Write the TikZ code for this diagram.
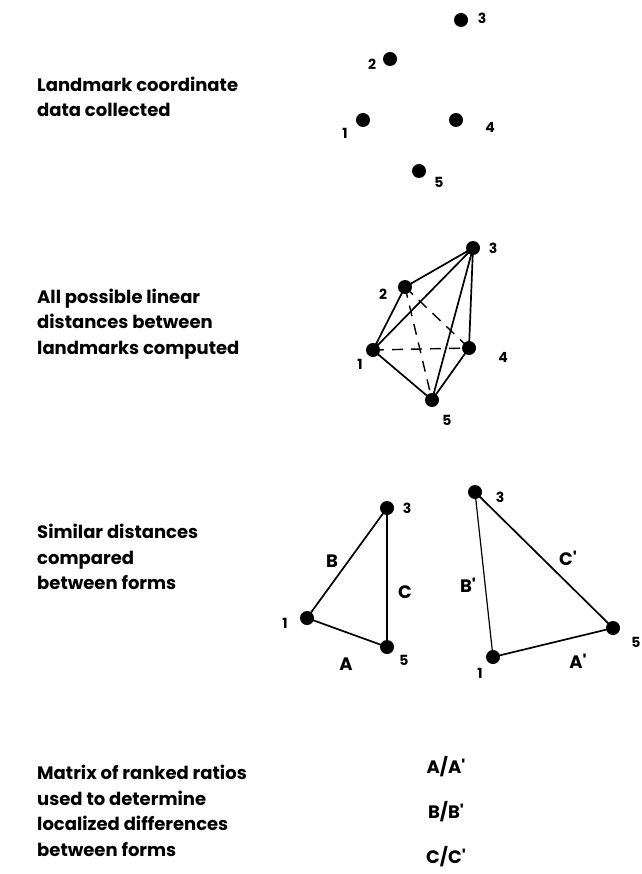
\documentclass[tikz,border=0pt]{standalone}
\usepackage{fontspec}
\newfontfamily\pop{Poppins}
\begin{document}
\begin{tikzpicture}[x=1pt,y=-1pt,
  lm/.style={circle,fill=black,inner sep=0pt,minimum size=14pt},
  num/.style={font=\pop\fontsize{14}{14}\selectfont\bfseries,inner sep=0pt},
  desc/.style={font=\pop\fontsize{18}{25.5}\selectfont\bfseries,align=left,anchor=west,inner sep=0pt},
  elab/.style={font=\pop\fontsize{18}{18}\selectfont\bfseries,inner sep=0pt},
  edge/.style={line width=1.7pt},
  dedge/.style={line width=1.4pt,dash pattern=on 11pt off 8pt}]
\useasboundingbox (0,0) rectangle (641,874);

% Panel 1
\node[desc] (t1) at (37,97) {Landmark coordinate\\data collected};
\node[lm] (a3) at (461,20) {};
\node[lm] (a2) at (390,59) {};
\node[lm] (a1) at (363,120) {};
\node[lm] (a4) at (456,120) {};
\node[lm] (a5) at (419,171) {};
\node[num] (la3) at (482,18) {3};
\node[num] (la2) at (372,64) {2};
\node[num] (la1) at (345,133) {1};
\node[num] (la4) at (490,127) {4};
\node[num] (la5) at (439,182) {5};

% Panel 2
\node[desc] (t2) at (37,324) {All possible linear\\distances between\\landmarks computed};
\node[lm] (b3) at (473,248) {};
\node[lm] (b2) at (405,287) {};
\node[lm] (b1) at (373,350) {};
\node[lm] (b4) at (469,348) {};
\node[lm] (b5) at (432,400) {};
\node[num] (lb3) at (493,248) {3};
\node[num] (lb2) at (383,294) {2};
\node[num] (lb1) at (360,364) {1};
\node[num] (lb4) at (503,357) {4};
\node[num] (lb5) at (447,420) {5};
\draw[edge] (b1.center) -- (b2.center) -- (b3.center) -- (b1.center);
\draw[edge] (b3.center) -- (b4.center) -- (b5.center) -- (b1.center);
\draw[edge] (b3.center) -- (b5.center);
\draw[dedge] (b1.center) -- (b4.center);
\draw[dedge] (b2.center) -- (b4.center);
\draw[dedge] (b2.center) -- (b5.center);

% Panel 3
\node[desc] (t3) at (37,557) {Similar distances\\compared\\between forms};
\node[lm] (c3) at (387,508) {};
\node[lm] (c1) at (307,618) {};
\node[lm] (c5) at (387,647) {};
\node[num] (lc3) at (407,508) {3};
\node[num] (lc1) at (285,623) {1};
\node[num] (lc5) at (404,660) {5};
\draw[edge] (c1.center) -- (c3.center) -- (c5.center) -- (c1.center);
\node[elab] (eB) at (332,561) {B};
\node[elab] (eC) at (405,592) {C};
\node[elab] (eA) at (346,664) {A};

\node[lm] (d3) at (475,492) {};
\node[lm] (d1) at (493,657) {};
\node[lm] (d5) at (613,628) {};
\node[num] (ld3) at (500,497) {3};
\node[num] (ld1) at (480,673) {1};
\node[num] (ld5) at (636,642) {5};
\draw[line width=1.2pt] (d3.center) -- (d1.center);
\draw[edge] (d3.center) -- (d5.center) -- (d1.center);
\node[elab] (eBp) at (468,585) {B'};
\node[elab] (eCp) at (568,558) {C'};
\node[elab] (eAp) at (578,661) {A'};

% Panel 4
\node[desc] (t4) at (37,811) {Matrix of ranked ratios\\used to determine\\localized differences\\between forms};
\node[elab] (r1) at (446,767) {A/A'};
\node[elab] (r2) at (446,812) {B/B'};
\node[elab] (r3) at (446,857) {C/C'};
\end{tikzpicture}
\end{document}
